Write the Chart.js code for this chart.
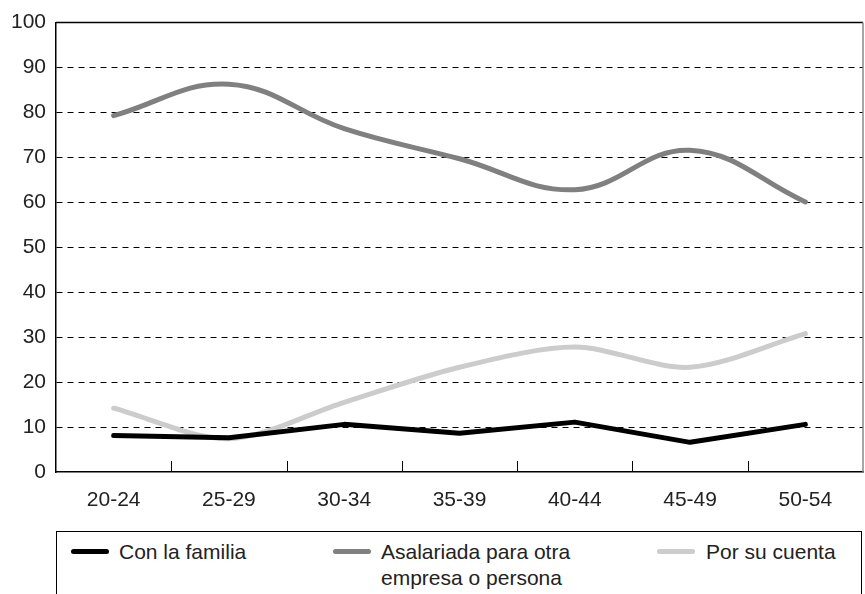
<!DOCTYPE html>
<html>
<head>
<meta charset="utf-8">
<script src="https://cdn.jsdelivr.net/npm/chart.js@4/dist/chart.umd.min.js"></script>
<style>
  html, body { margin: 0; padding: 0; background: #fff; }
  body { width: 865px; height: 594px; position: relative; overflow: hidden; font-family: "Liberation Sans", Arial, sans-serif; }
  #wrap { position: absolute; left: 0; top: 0; width: 865px; height: 512px; }
  #legend { position: absolute; left: 56px; top: 531px; width: 806px; height: 80px;
            border: 1.5px solid #000; border-bottom: none; box-sizing: border-box; }
  .item { position: absolute; top: 7px; font-size: 21px; line-height: 26px; color: #222; }
  .sw { position: absolute; width: 38px; height: 5px; border-radius: 3px; }
</style>
</head>
<body>
<div id="wrap"><canvas id="c"></canvas></div>
<div id="legend"></div>
<script>
const categories = ["20-24", "25-29", "30-34", "35-39", "40-44", "45-49", "50-54"];
const conLaFamilia = [8.1, 7.6, 10.6, 8.6, 11.1, 6.6, 10.6];
const asalariada = [79.3, 86.3, 76.4, 69.7, 62.8, 71.6, 60.1];
const porSuCuenta = [14.2, 7.4, 15.5, 23.3, 27.8, 23.3, 30.8];
const yTicks = [0, 10, 20, 30, 40, 50, 60, 70, 80, 90, 100];
const seriesNames = ["Con la familia", ["Asalariada para otra", "empresa o persona"], "Por su cuenta"];

const colors = ["#000000", "#808080", "#cccccc"];

const framePlugin = {
  id: "frame",
  afterDraw(chart) {
    const { ctx, chartArea: a, scales } = chart;
    const x = scales.x;
    ctx.save();
    ctx.strokeStyle = "#000";
    ctx.lineWidth = 1.5;
    ctx.beginPath(); ctx.moveTo(a.left, a.top); ctx.lineTo(a.right, a.top); ctx.stroke();
    ctx.strokeStyle = "#888";
    ctx.beginPath(); ctx.moveTo(a.right, a.top); ctx.lineTo(a.right, a.bottom); ctx.stroke();
    ctx.strokeStyle = "#000";
    ctx.lineWidth = 1;
    for (let i = 1; i < categories.length; i++) {
      const px = Math.round((x.getPixelForValue(i - 1) + x.getPixelForValue(i)) / 2) + 0.5;
      ctx.beginPath(); ctx.moveTo(px, a.bottom); ctx.lineTo(px, a.bottom - 11); ctx.stroke();
    }
    ctx.restore();
  }
};

const chart = new Chart(document.getElementById("c"), {
  type: "line",
  data: {
    labels: categories,
    datasets: [
      { label: "Con la familia", data: conLaFamilia, borderColor: colors[0], borderWidth: 5, tension: 0, pointRadius: 0, borderCapStyle: "round", borderJoinStyle: "round" },
      { label: "Asalariada para otra empresa o persona", data: asalariada, borderColor: colors[1], borderWidth: 5, tension: 0.4, pointRadius: 0, borderCapStyle: "round", borderJoinStyle: "round" },
      { label: "Por su cuenta", data: porSuCuenta, borderColor: colors[2], borderWidth: 5, tension: 0.3, pointRadius: 0, borderCapStyle: "round", borderJoinStyle: "round" }
    ]
  },
  options: {
    responsive: true,
    maintainAspectRatio: false,
    animation: false,
    layout: { padding: { top: 13, right: 2, left: 0, bottom: 0 } },
    plugins: { legend: { display: false }, tooltip: { enabled: false } },
    scales: {
      x: {
        offset: true,
        grid: { display: false, offset: true },
        border: { display: true, color: "#000", width: 1.5 },
        ticks: { color: "#222", font: { family: "Liberation Sans", size: 21 }, padding: 8, maxRotation: 0 },
        afterFit(scale) { scale.height = 40; }
      },
      y: {
        min: 0, max: 100,
        afterBuildTicks(scale) { scale.ticks = yTicks.map(v => ({ value: v })); },
        grid: {
          drawTicks: false,
          color: (ctx) => (ctx.tick && (ctx.tick.value === 0 || ctx.tick.value === 100)) ? "rgba(0,0,0,0)" : "#000",
          lineWidth: 1
        },
        border: { display: true, color: "#000", width: 1.5, dash: [6, 5] },
        ticks: { color: "#222", font: { family: "Liberation Sans", size: 21 }, padding: 10 },
        afterFit(scale) { scale.width = 56; }
      }
    }
  },
  plugins: [framePlugin]
});

const legendPos = [{ sw: 14, tx: 62 }, { sw: 276, tx: 324 }, { sw: 600, tx: 649 }];
const legend = document.getElementById("legend");
chart.data.datasets.forEach((ds, i) => {
  const sw = document.createElement("span");
  sw.className = "sw";
  sw.style.left = legendPos[i].sw + "px";
  sw.style.top = "17px";
  sw.style.background = ds.borderColor;
  legend.appendChild(sw);
  const t = document.createElement("div");
  t.className = "item";
  t.style.left = legendPos[i].tx + "px";
  const name = seriesNames[i];
  t.innerHTML = Array.isArray(name) ? name.join("<br>") : name;
  legend.appendChild(t);
});
</script>
</body>
</html>
